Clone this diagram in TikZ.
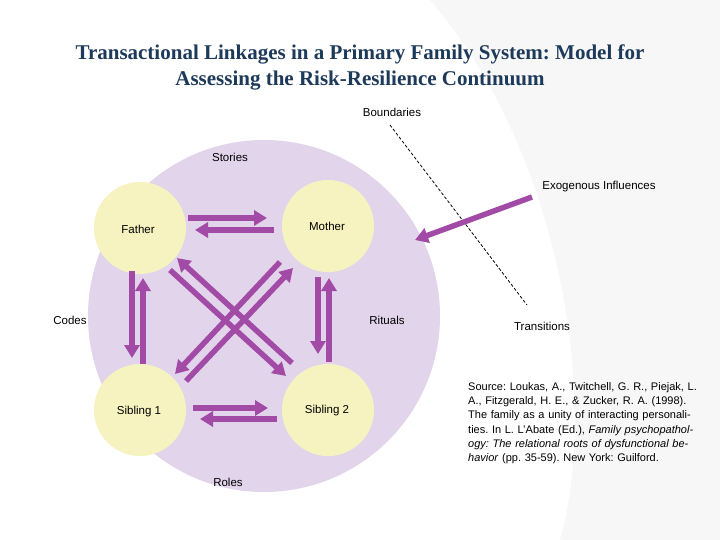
\documentclass[tikz,border=0pt]{standalone}
\usepackage{fontspec}
\setmainfont{Liberation Sans}
\newfontfamily\titlefont{Liberation Serif}
\usetikzlibrary{arrows.meta}
\definecolor{big}{HTML}{E2D4EA}
\definecolor{yel}{HTML}{F7F3C0}
\definecolor{arr}{HTML}{A24BA6}
\definecolor{ttl}{HTML}{1E3A5A}
\begin{document}
\frenchspacing
\begin{tikzpicture}[x=1pt,y=-1pt,
  lbl/.style={font=\fontsize{11.5}{13}\selectfont, inner sep=0pt},
  pers/.style={circle, fill=yel, minimum size=92pt, inner sep=0pt},
  fat/.style={draw=arr, line width=5.5pt, -{Triangle[length=13pt,width=15pt]}}]
\fill[white] (0,0) rectangle (720,540);
\fill[black!3] (430,0) .. controls (560,150) and (600,400) .. (560,540) -- (720,540) -- (720,0) -- cycle;
\fill[big] (264,316) circle (176);
\node[lbl] (bd) at (392,112) {Boundaries};
\node[lbl] (st) at (230,157) {Stories};
\node[lbl] (ex) at (599,187) {Exogenous Influences};
\node[lbl] (cd) at (70,320) {Codes};
\node[lbl] (ri) at (387,320) {Rituals};
\node[lbl] (tr) at (542,326) {Transitions};
\node[lbl] (ro) at (228,482) {Roles};
\node[pers] (F) at (140,228) {}; \node[lbl] at (138,229) {Father};
\node[pers] (M) at (328,226) {}; \node[lbl] at (327,226) {Mother};
\node[pers] (S1) at (140,410) {}; \node[lbl] at (139,412) {Sibling 1};
\node[pers] (S2) at (328,410) {}; \node[lbl] at (327,411) {Sibling 2};
\node[font=\titlefont\bfseries\fontsize{21}{26}\selectfont, text=ttl, align=center] (t) at (360,67)
 {Transactional Linkages in a Primary Family System: Model for\\Assessing the Risk-Resilience Continuum};
\coordinate (d1) at (390,125); \coordinate (d2) at (527,305);
\draw[densely dashed, line width=0.8pt] (d1) -- (d2);
\coordinate (e1) at (532,197); \coordinate (e2) at (415,240);
\draw[fat] (e1) -- (e2);
\draw[fat] (188,218) -- (267,218);
\draw[fat] (274,230) -- (195,230);
\draw[fat] (132,271) -- (132,358);
\draw[fat] (143,364) -- (143,278);
\draw[fat] (318,277) -- (318,354);
\draw[fat] (329,362) -- (329,278);
\draw[fat] (193,408) -- (268,408);
\draw[fat] (277,419) -- (200,419);
\draw[fat] (170,270) -- (286,376);
\draw[fat] (292,363) -- (177,258);
\draw[fat] (280,262) -- (175,374);
\draw[fat] (186,381) -- (293,268);
\node[font=\fontsize{11}{14.3}\selectfont, align=left, text width=234pt, anchor=north west, inner sep=0pt] (src) at (468,382)
 {\raggedright Source: Loukas, A., Twitchell, G. R., Piejak, L. A., Fitzgerald, H. E., \& Zucker, R. A. (1998). The family as a unity of interacting personalities. In L. L'Abate (Ed.), \textit{Family psychopathology: The relational roots of dysfunctional behavior} (pp. 35-59). New York: Guilford.};
\end{tikzpicture}
\end{document}
